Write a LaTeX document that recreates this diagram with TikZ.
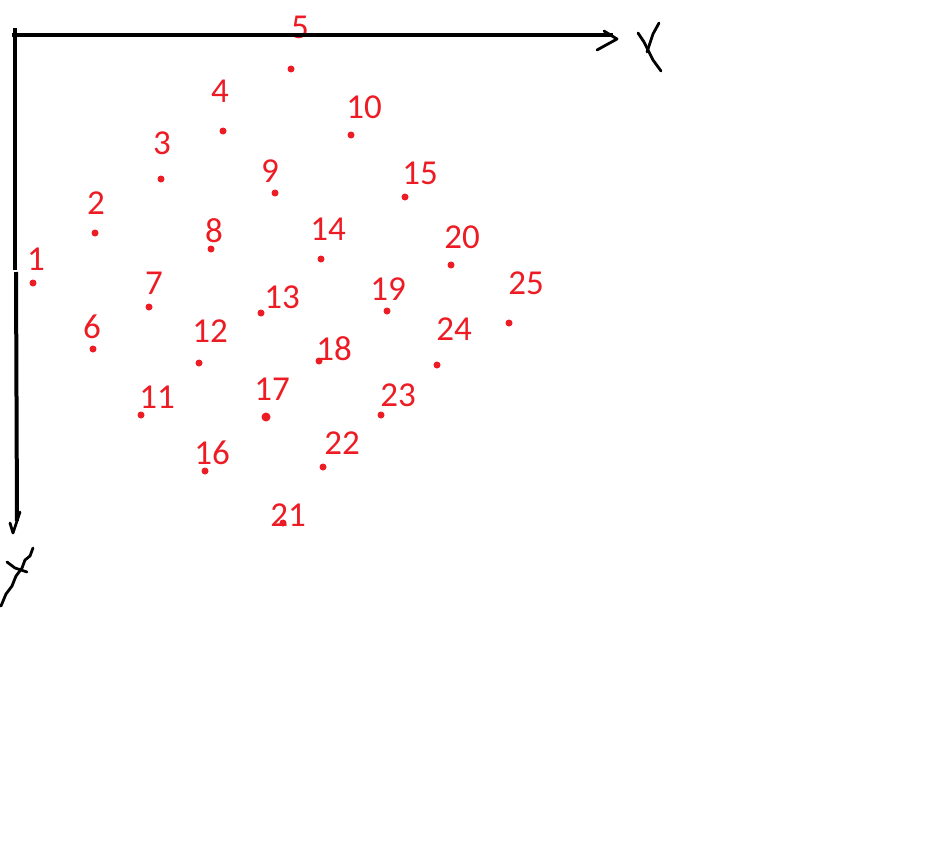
\documentclass[tikz,border=0pt]{standalone}
\usepackage{fontspec}
\setmainfont{Carlito}
\usetikzlibrary{positioning}
\definecolor{PaintRed}{HTML}{ED1C24}
\tikzset{
 dot/.style={circle,fill=PaintRed,inner sep=0pt,minimum size=7pt},
 num/.style={text=PaintRed,inner sep=0pt,font=\fontsize{35}{40}\selectfont},
 axis/.style={line width=4pt,draw=black},
 scrawl/.style={line width=2.8pt,draw=black,line cap=round,line join=round}
}

\begin{document}
\begin{tikzpicture}[x=1pt,y=-1pt]
\useasboundingbox (0,0) rectangle (940,859);
% grid points and their numbers
\foreach \n/\px/\py/\lx/\ly/\s in {1/33/283/36/259/7,2/95/233/96/203/7,3/161/179/162/143/7,4/223/131/220/91/7,5/291/69/300/27/7,
  6/93/349/92/327/7,7/149/307/154/283/7,8/211/249/214/231/7,9/275/193/270/171/7,10/351/135/364/107/7,
  11/141/415/157/397/7,12/199/363/210/331/7,13/261/313/282/297/7,14/321/259/328/229/7,15/405/197/420/173/7,
  16/205/471/212/453/7,17/266/417/272/389/9,18/319/361/334/349/7,19/387/311/388/289/7,20/451/265/462/237/7,
  21/283/523/288/515/7,22/323/467/342/443/7,23/381/415/398/395/7,24/437/365/454/329/7,25/509/323/526/283/7}{
  \node[dot,minimum size=\s pt] (p\n) at (\px,\py) {};
  \node[num] (l\n) at (\lx,\ly) {\n};
}
% axes
\coordinate (o) at (12,35);
\coordinate (xend) at (613,35);
\coordinate (ytop) at (15,28);
\coordinate (ybreak) at (15,270);
\coordinate (ybreak2) at (16,272);
\coordinate (yend) at (17,521);
\draw[axis] (o) -- (xend);
\draw[axis] (ytop) -- (ybreak);
\draw[axis] (ybreak2) -- (yend);
% hand drawn arrow tips
\draw[scrawl] (604,31) -- (617,39) -- (597,50);
\draw[scrawl] (20,512) -- (13,533) -- (10,523);
% hand drawn X
\draw[scrawl] (638,33) -- (644,42) -- (648,50) -- (653,60) -- (661,71);
\draw[scrawl] (659,23) -- (653,34) -- (647,52);
% hand drawn Y
\draw[scrawl] (33,548) -- (30,556) -- (25,560) -- (22,568) -- (16,576) -- (12,586) -- (6,594) -- (1,606);
\draw[scrawl] (7,562) -- (15,568) -- (27,572);
\end{tikzpicture}
\end{document}
